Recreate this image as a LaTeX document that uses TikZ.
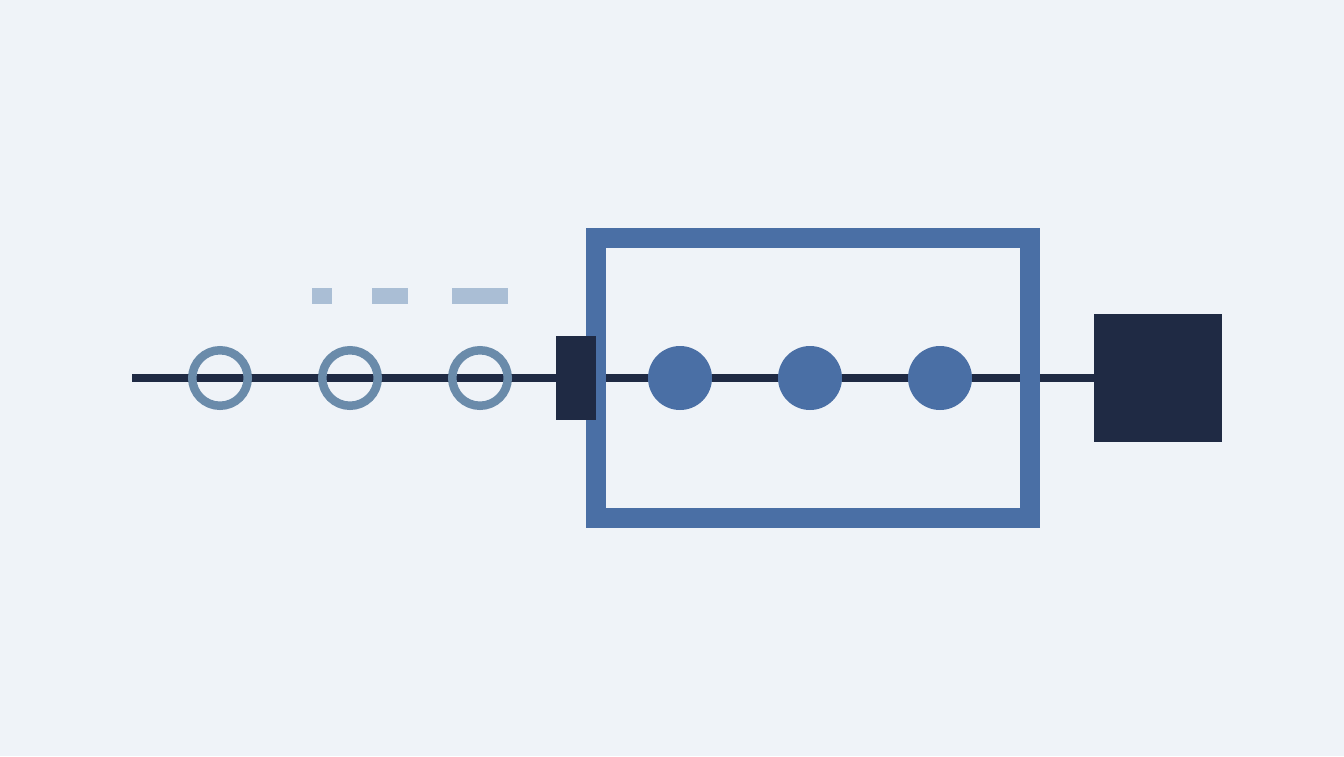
\documentclass[tikz,border=0pt]{standalone}
\usetikzlibrary{backgrounds}
\definecolor{bg}{HTML}{EFF3F8}
\definecolor{ink}{HTML}{1F2A44}
\definecolor{steel}{HTML}{4A6FA5}
\definecolor{slate}{HTML}{6A8BAA}
\definecolor{pale}{HTML}{AABED5}
\begin{document}
\begin{tikzpicture}[x=1pt,y=-1pt,
  opencirc/.style={circle,draw=slate,line width=8.5pt,minimum size=55.5pt,inner sep=0pt,outer sep=0pt},
  dotcirc/.style={circle,fill=steel,minimum size=64pt,inner sep=0pt,outer sep=0pt},
  inkbox/.style={rectangle,fill=ink,inner sep=0pt,outer sep=0pt},
  dashbar/.style={rectangle,fill=pale,inner sep=0pt,outer sep=0pt,minimum height=16pt},
  frame/.style={draw=steel,line width=20pt,inner sep=0pt,outer sep=0pt},
  wire/.style={draw=ink,line width=8pt}]
\fill[bg] (0,0) rectangle (1344,756);
\useasboundingbox (0,0) rectangle (1344,756);
% nodes
\coordinate (start) at (132,378);
\node[inkbox,minimum width=128pt,minimum height=128pt] (sink) at (1158,378) {};
\draw[wire] (start) -- (sink.west);
\node[opencirc] (o1) at (220,378) {};
\node[opencirc] (o2) at (350,378) {};
\node[opencirc] (o3) at (480,378) {};
\node[dotcirc] (f1) at (680,378) {};
\node[dotcirc] (f2) at (810,378) {};
\node[dotcirc] (f3) at (940,378) {};
\node[frame,rectangle,minimum width=434pt,minimum height=280pt] (group) at (813,378) {};
\node[inkbox,minimum width=40pt,minimum height=84pt] (gate) at (576,378) {};
\node[dashbar,minimum width=20pt] (d1) at (322,296) {};
\node[dashbar,minimum width=36pt] (d2) at (390,296) {};
\node[dashbar,minimum width=56pt] (d3) at (480,296) {};
\end{tikzpicture}
\end{document}
